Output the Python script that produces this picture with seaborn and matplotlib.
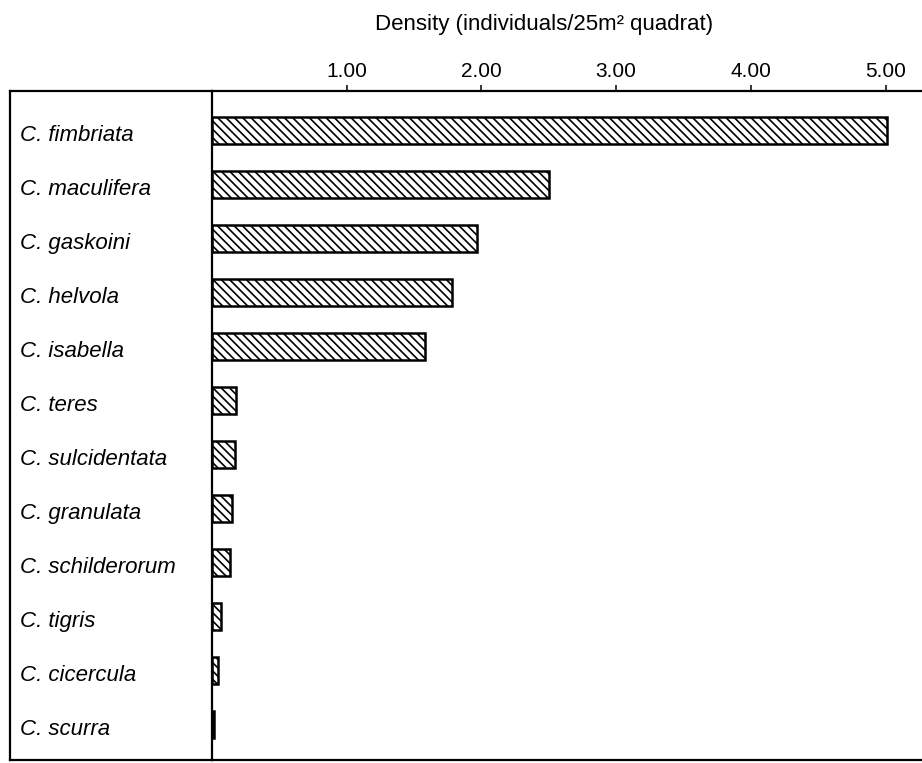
import matplotlib
matplotlib.use("Agg")
import matplotlib.pyplot as plt
import matplotlib.transforms as mtransforms
import seaborn as sns
import pandas as pd

species = ["C. fimbriata", "C. maculifera", "C. gaskoini", "C. helvola", "C. isabella",
           "C. teres", "C. sulcidentata", "C. granulata", "C. schilderorum",
           "C. tigris", "C. cicercula", "C. scurra"]
density = [5.01, 2.50, 1.97, 1.78, 1.58, 0.18, 0.17, 0.15, 0.13, 0.065, 0.045, 0.015]
xticks = [1.0, 2.0, 3.0, 4.0, 5.0]
xtick_labels = ["1.00", "2.00", "3.00", "4.00", "5.00"]
xlabel = "Density (individuals/25m\u00b2 quadrat)"

sns.set_theme(style="white")
plt.rcParams["font.family"] = ["Liberation Sans", "DejaVu Sans"]
plt.rcParams["hatch.linewidth"] = 1.2
plt.rcParams["text.color"] = "black"
plt.rcParams["xtick.color"] = "black"
plt.rcParams["ytick.color"] = "black"
plt.rcParams["axes.labelcolor"] = "black"

W, H = 922, 763
fig = plt.figure(figsize=(W / 100, H / 100), dpi=100)
fig.patch.set_facecolor("white")

x0, x1 = 212, 922
y_top, y_bot = 91, 760
ax = fig.add_axes([x0 / W, 1 - y_bot / H, (x1 - x0) / W, (y_bot - y_top) / H])
box = fig.add_axes([10 / W, 1 - y_bot / H, (x0 - 10) / W, (y_bot - y_top) / H])

df = pd.DataFrame({"species": species, "density": density})
sns.barplot(data=df, x="density", y="species", ax=ax, color="white",
            edgecolor="black", linewidth=1.8, width=0.5, saturation=1)
for p in ax.patches:
    p.set_hatch("\\\\\\\\")
    p.set_facecolor("white")

ax.set_xlim(0, 5.27)
ax.set_ylim(11.65, -0.74)
ax.xaxis.tick_top()
ax.xaxis.set_label_position("top")
ax.set_xticks(xticks)
ax.set_xticklabels(xtick_labels, fontsize=15)
ax.set_xlabel(xlabel, fontsize=16, labelpad=23)
ax.xaxis.label.set_x((544 - x0) / (x1 - x0))
ax.set_ylabel("")
ax.tick_params(axis="x", which="major", direction="out", length=4.5, width=1.1,
               color="black", pad=3, top=True, bottom=False)
ax.tick_params(axis="y", length=0, pad=138, labelsize=16)
shift = mtransforms.ScaledTranslation(0, -5 / 100, fig.dpi_scale_trans)
for t in ax.yaxis.get_major_ticks():
    lab = t.label1
    lab.set_horizontalalignment("left")
    lab.set_verticalalignment("center")
    lab.set_fontstyle("italic")
    lab.set_transform(lab.get_transform() + shift)

for s in ["top", "left", "bottom"]:
    ax.spines[s].set_visible(True)
    ax.spines[s].set_color("black")
    ax.spines[s].set_linewidth(1.6)
ax.spines["right"].set_visible(False)

box.set_xticks([])
box.set_yticks([])
box.set_facecolor("none")
for s in ["top", "left", "bottom"]:
    box.spines[s].set_visible(True)
    box.spines[s].set_color("black")
    box.spines[s].set_linewidth(1.6)
box.spines["right"].set_visible(False)
ax.set_zorder(2)
ax.patch.set_alpha(0)

fig.savefig("out.png", dpi=100, facecolor="white")
